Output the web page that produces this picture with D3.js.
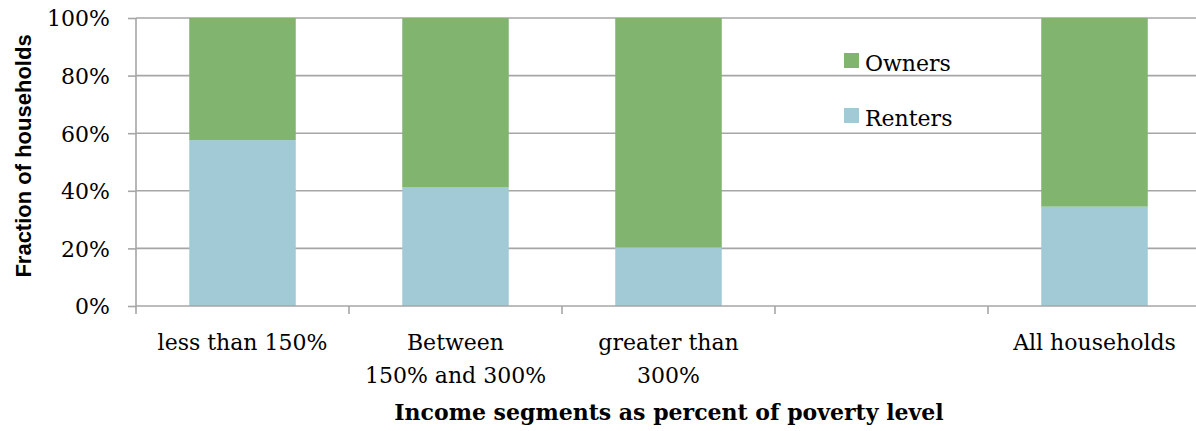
<!DOCTYPE html>
<html>
<head>
<meta charset="utf-8">
<script src="https://cdn.jsdelivr.net/npm/d3@7"></script>
<style>
  body { margin: 0; background: #fff; }
  svg { display: block; }
</style>
</head>
<body>
<div id="chart"></div>
<script>
// data
var categories = ["less than 150%", "Between\n150% and 300%", "greater than\n300%", "", "All households"];
var renters = [57.6, 41.3, 20.3, null, 34.5];
var owners = [42.4, 58.7, 79.7, null, 65.5];
var seriesNames = ["Owners", "Renters"];
var yTicks = [0, 20, 40, 60, 80, 100];

var W = 1196, H = 431;
var margin = {top: 18, right: -5, bottom: 125, left: 136},
    width = W - margin.left - margin.right,
    height = H - margin.top - margin.bottom;

var svg = d3.select("#chart")
  .append("svg")
    .attr("width", W)
    .attr("height", H);

var g = svg.append("g")
    .attr("transform", "translate(" + margin.left + "," + margin.top + ")");

// keys for the band scale (one of the categories is empty)
var keys = categories.map(function(d, i) { return "c" + i; });

var table = keys.map(function(k, i) {
  return {key: k, Renters: renters[i] || 0, Owners: owners[i] || 0};
});

// X scales: one for bars, one for the category boundaries
var x = d3.scaleBand()
    .domain(keys)
    .range([0, width])
    .paddingInner(0.5)
    .paddingOuter(0.25);
var xEdge = d3.scaleBand()
    .domain(keys)
    .range([0, width])
    .padding(0);

var y = d3.scaleLinear()
    .domain([0, 100])
    .range([height, 0]);

var color = d3.scaleOrdinal()
    .domain(seriesNames)
    .range(["#80b46f", "#a1c9d6"]);

var grid = "#a6a6a6";
var serif = "'DejaVu Serif', serif";

// gridlines
g.append("g")
  .selectAll("line")
  .data(yTicks.filter(function(d) { return d > 0; }))
  .enter().append("line")
    .attr("x1", 0)
    .attr("x2", width)
    .attr("y1", function(d) { return y(d); })
    .attr("y2", function(d) { return y(d); })
    .attr("stroke", grid)
    .attr("stroke-width", 1.6);

// stacked bars
var stackedData = d3.stack()
    .keys(["Renters", "Owners"])
    (table);

g.append("g")
  .selectAll("g")
  .data(stackedData)
  .enter().append("g")
    .attr("fill", function(d) { return color(d.key); })
  .selectAll("rect")
  .data(function(d) { return d.filter(function(e) { return e[1] > e[0]; }); })
  .enter().append("rect")
    .attr("x", function(d) { return x(d.data.key); })
    .attr("y", function(d) { return y(d[1]); })
    .attr("height", function(d) { return y(d[0]) - y(d[1]); })
    .attr("width", x.bandwidth());

// Y axis
var yAxis = g.append("g")
    .call(d3.axisLeft(y)
      .tickValues(yTicks)
      .tickSize(8)
      .tickFormat(function(d) { return d + "%"; }));
yAxis.select(".domain").attr("stroke", grid).attr("stroke-width", 1.6)
    .attr("d", "M0," + (height + 8) + "V0");
yAxis.selectAll(".tick line").attr("stroke", grid).attr("stroke-width", 1.6);
yAxis.selectAll(".tick text")
    .attr("x", -26)
    .attr("dy", "0.36em")
    .style("font-family", serif)
    .style("font-size", "22px")
    .style("fill", "#000");

// X axis line and boundary ticks
var xAxis = g.append("g").attr("transform", "translate(0," + height + ")");
xAxis.append("line")
    .attr("x1", 0).attr("x2", width)
    .attr("stroke", grid).attr("stroke-width", 1.6);
xAxis.selectAll(".edge")
  .data(keys.slice(1).concat(["end"]))
  .enter().append("line")
    .attr("class", "edge")
    .attr("x1", function(d) { return d == "end" ? width : xEdge(d); })
    .attr("x2", function(d) { return d == "end" ? width : xEdge(d); })
    .attr("y1", 0).attr("y2", 8)
    .attr("stroke", grid).attr("stroke-width", 1.6);

// category labels
xAxis.selectAll(".cat")
  .data(keys)
  .enter().append("text")
    .attr("class", "cat")
    .attr("text-anchor", "middle")
    .attr("x", function(d) { return x(d) + x.bandwidth() / 2; })
    .attr("y", 44)
    .style("font-family", serif)
    .style("font-size", "22px")
    .style("fill", "#000")
  .each(function(d, i) {
    var lines = categories[i].split("\n");
    var t = d3.select(this);
    lines.forEach(function(l, j) {
      t.append("tspan")
        .attr("x", x(d) + x.bandwidth() / 2)
        .attr("dy", j == 0 ? 0 : 33)
        .text(l);
    });
  });

// axis titles
svg.append("text")
    .attr("text-anchor", "middle")
    .attr("transform", "translate(31," + (margin.top + 138) + ")rotate(-90)")
    .style("font-family", "'Liberation Sans', sans-serif")
    .style("font-weight", "bold")
    .style("font-size", "22px")
    .text("Fraction of households");

svg.append("text")
    .attr("text-anchor", "middle")
    .attr("x", 669)
    .attr("y", 420)
    .style("font-family", serif)
    .style("font-weight", "bold")
    .style("font-size", "22px")
    .text("Income segments as percent of poverty level");

// legend
var legend = svg.append("g").attr("transform", "translate(844,53)");
var item = legend.selectAll("g")
  .data(seriesNames)
  .enter().append("g")
    .attr("transform", function(d, i) { return "translate(0," + (i * 55) + ")"; });
item.append("rect")
    .attr("width", 15).attr("height", 15)
    .attr("fill", function(d) { return color(d); });
item.append("text")
    .attr("x", 21)
    .attr("y", 18)
    .style("font-family", serif)
    .style("font-size", "22px")
    .text(function(d) { return d; });
</script>
</body>
</html>
